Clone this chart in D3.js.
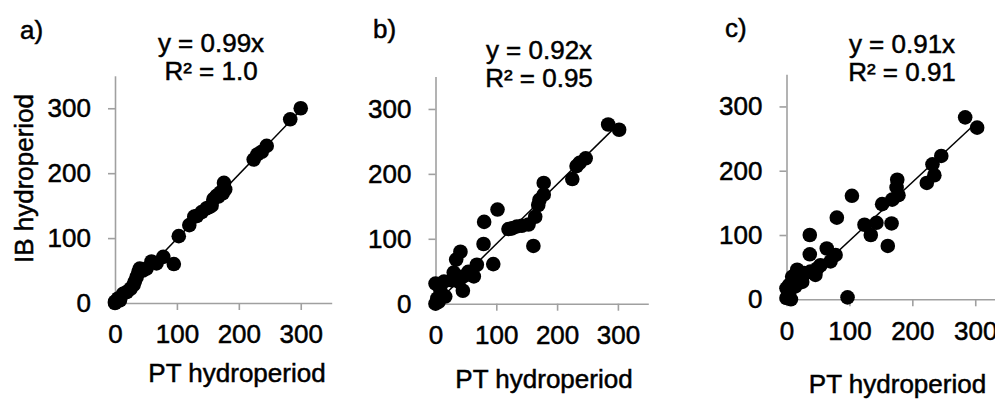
<!DOCTYPE html>
<html>
<head>
<meta charset="utf-8">
<script src="https://d3js.org/d3.v7.min.js"></script>
<style>
  body { margin: 0; background: #fff; }
  text { font-family: "Liberation Sans", Arial, sans-serif; fill: #000; stroke: #000; stroke-width: 0.5; }
  .axis path, .axis line { stroke: #a0a0a0; stroke-width: 1.6; }
  .axis text { font-size: 26px; }
  .lbl { font-size: 26px; }
</style>
</head>
<body>
<div id="chart"></div>
<script>
// PT hydroperiod (x) vs IB hydroperiod (y), one array of pairs per panel
const panelA = [
  [0,0],[0,2],[5,7],[8,4],[13,14],[19,17],[25,22],[30,28],[32,33],[35,40],
  [38,48],[40,53],[45,50],[51,53],[59,64],[67,61],[78,71],[95,60],[103,103],[120,120],
  [128,133],[132,134],[140,140],[148,146],[153,148],[156,150],[159,160],[164,165],[167,164],[170,170],
  [174,169],[176,185],[178,175],[224,221],[230,229],[237,233],[245,242],[283,283],[300,300]
];
const panelB = [
  [0,0],[3,8],[5,3],[0,31],[8,21],[14,34],[16,11],[27,36],[30,48],[34,68],
  [38,34],[41,80],[45,20],[46,42],[54,49],[57,47],[63,42],[68,60],[79,92],[80,126],
  [95,61],[102,145],[120,115],[126,116],[134,119],[142,120],[153,122],[161,89],[164,134],[169,152],
  [171,160],[178,168],[178,186],[225,192],[232,212],[237,217],[247,224],[284,276],[302,268]
];
const panelC = [
  [0,2],[7,0],[4,9],[0,17],[4,22],[14,20],[9,35],[17,46],[25,27],[28,41],
  [37,70],[37,100],[38,43],[46,38],[49,48],[54,53],[64,79],[70,59],[78,69],[80,127],
  [97,3],[104,161],[124,116],[134,100],[143,119],[152,148],[161,83],[167,118],[168,155],[175,174],
  [176,186],[178,162],[223,181],[232,210],[235,193],[246,223],[284,283],[303,267]
];
const slopes = [0.99, 0.92, 0.91];
const letters = ["a)", "b)", "c)"];
const eqLines = [["y = 0.99x", "R² = 1.0"], ["y = 0.92x", "R² = 0.95"], ["y = 0.91x", "R² = 0.91"]];
const tickVals = [0, 100, 200, 300];
const xLabel = "PT hydroperiod";
const yLabel = "IB hydroperiod";

// layout of each panel (pixels)
const layout = [
  { x0: 115, x1: 331.7, y0: 303, y1: 75.8, lx: 20, ly: 39, ex: 211, ey: 52, tx: 237, ty: 382 },
  { x0: 435.5, x1: 648.3, y0: 303.7, y1: 76.5, lx: 373, ly: 38, ex: 539, ey: 59, tx: 544, ty: 388 },
  { x0: 786.5, x1: 1006.7, y0: 299.3, y1: 74.3, lx: 725, ly: 37, ex: 902, ey: 53, tx: 897.5, ty: 393 }
];

const svg = d3.select("#chart").append("svg")
  .attr("width", 995).attr("height", 399);

[panelA, panelB, panelC].forEach((data, i) => {
  const L = layout[i];
  const x = d3.scaleLinear().domain([0, 350]).range([L.x0, L.x1]);
  const y = d3.scaleLinear().domain([0, 350]).range([L.y0, L.y1]);
  const g = svg.append("g");

  g.append("g").attr("class", "axis")
    .attr("transform", `translate(0,${L.y0})`)
    .call(d3.axisBottom(x).tickValues(tickVals).tickSize(7).tickSizeOuter(0).tickPadding(15));
  g.append("g").attr("class", "axis")
    .attr("transform", `translate(${L.x0},0)`)
    .call(d3.axisLeft(y).tickValues(tickVals).tickSize(7).tickSizeOuter(0).tickPadding(17));

  // trend line through origin
  const xmax = d3.max(data, d => d[0]);
  g.append("line")
    .attr("x1", x(0)).attr("y1", y(0))
    .attr("x2", x(xmax)).attr("y2", y(slopes[i] * xmax))
    .attr("stroke", "#000").attr("stroke-width", 1.5);

  g.selectAll("circle").data(data).join("circle")
    .attr("cx", d => x(d[0])).attr("cy", d => y(d[1]))
    .attr("r", 7.3).attr("fill", "#000");

  g.append("text").attr("class", "lbl")
    .attr("x", L.lx).attr("y", L.ly).text(letters[i]);

  eqLines[i].forEach((t, k) => {
    g.append("text").attr("class", "lbl")
      .attr("x", L.ex).attr("y", L.ey + k * 28)
      .attr("text-anchor", "middle").text(t);
  });

  g.append("text").attr("class", "lbl")
    .attr("x", L.tx).attr("y", L.ty)
    .attr("text-anchor", "middle").text(xLabel);
});

svg.append("text").attr("class", "lbl")
  .attr("transform", "translate(33,178.5) rotate(-90)")
  .attr("text-anchor", "middle").text(yLabel);
</script>
</body>
</html>
